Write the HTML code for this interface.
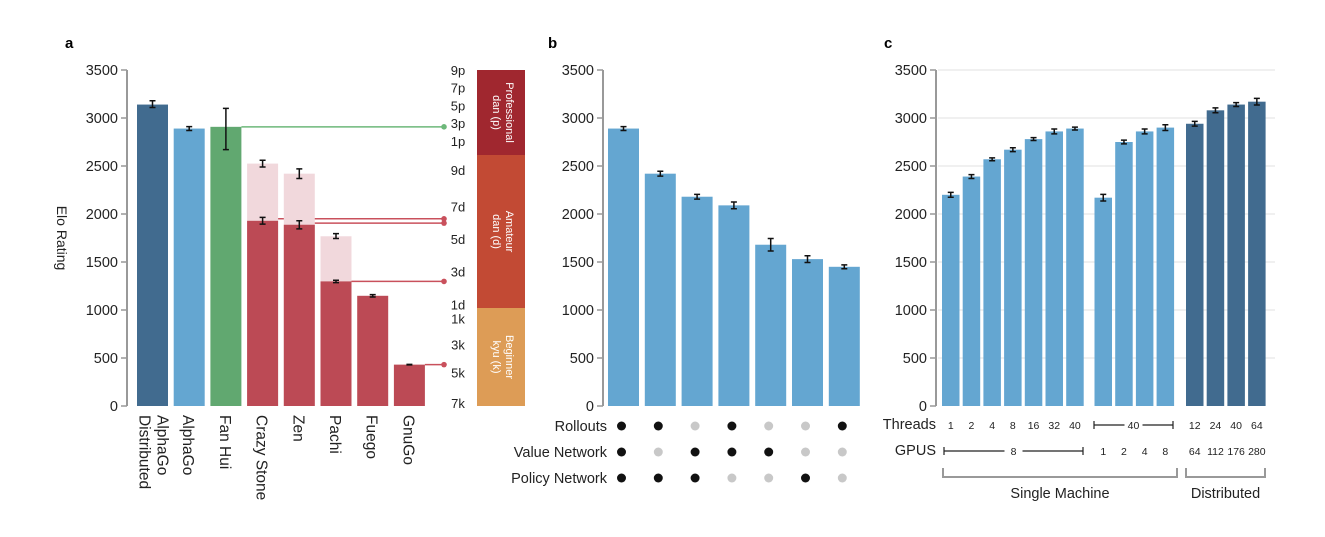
<!DOCTYPE html>
<html><head><meta charset="utf-8"><style>
html,body{margin:0;padding:0;background:#fff}
svg{display:block;font-family:"Liberation Sans",Arial,sans-serif}
</style></head><body>
<svg id="chart" width="1325" height="537" viewBox="0 0 1325 537">
<g id="ga"></g>
<g id="gb"></g>
<g id="gc"></g>
</svg>
<script>
// Panel a data
const aCats = [["AlphaGo","Distributed"],["AlphaGo"],["Fan Hui"],["Crazy Stone"],["Zen"],["Pachi"],["Fuego"],["GnuGo"]];
const aVals = [3140, 2890, 2908, 1929, 1888, 1298, 1148, 431];
const aErrLo = [3110, 2870, 2670, 1895, 1845, 1285, 1135, 428];
const aErrHi = [3180, 2910, 3100, 1965, 1930, 1310, 1160, 434];
const aLight = [null, null, null, 2525, 2420, 1768, null, null];
const aLightLo = [null, null, null, 2490, 2370, 1745, null, null];
const aLightHi = [null, null, null, 2560, 2470, 1795, null, null];
const aColors = ["#416b8f","#64a6d1","#61a870","#bc4a55","#bc4a55","#bc4a55","#bc4a55","#bc4a55"];
const aConnect = [null, null, 2908, 1950, 1905, 1298, null, 431];
const rankLabels = ["9p","7p","5p","3p","1p","9d","7d","5d","3d","1d","1k","3k","5k","7k"];
const rankElo = [3500, 3320, 3130, 2950, 2760, 2460, 2080, 1740, 1400, 1055, 910, 640, 350, 30];
const yTicks = [0,500,1000,1500,2000,2500,3000,3500];
// Panel b data
const bVals = [2890, 2420, 2180, 2090, 1680, 1530, 1450];
const bErr = [20, 25, 25, 35, 65, 35, 20];
const bRows = ["Rollouts","Value Network","Policy Network"];
const bRollouts = [1,1,0,1,0,0,1];
const bValue = [1,0,1,1,1,0,0];
const bPolicy = [1,1,1,0,0,1,0];
// Panel c data
const cVals = [2200,2390,2570,2670,2780,2860,2890, 2170,2750,2860,2900, 2940,3080,3140,3170];
const cErr = [25,20,15,20,15,25,15, 35,20,25,30, 25,25,20,35];
const cThreads = ["1","2","4","8","16","32","40", "","","","", "12","24","40","64"];
const cGpus = ["","","","","","","", "1","2","4","8", "64","112","176","280"];

const NS = "http://www.w3.org/2000/svg";
function mk(parent, tag, attrs, text){
  const e = document.createElementNS(NS, tag);
  for (const k in attrs) e.setAttribute(k, attrs[k]);
  if (text !== undefined) e.textContent = text;
  parent.appendChild(e); return e;
}
const y0 = 406, y1 = 70;
function yS(v){ return y0 - (v/3500)*(y0-y1); }

function errBar(g, cx, lo, hi, name){
  const p = mk(g, "path", {d:`M${cx},${yS(hi)}V${yS(lo)}M${cx-3},${yS(hi)}h6M${cx-3},${yS(lo)}h6`, stroke:"#111", "stroke-width":1.5, fill:"none"});
  
  
}
function axis(g, ax, gridTo){
  const l = mk(g, "path", {d:`M${ax},${y1}V${y0}`, stroke:"#999", "stroke-width":2, fill:"none"});
  
  
  yTicks.forEach(t=>{
    const y = yS(t);
    if (gridTo && t>0) {
      const gl = mk(g, "line", {x1:ax+2, x2:gridTo, y1:y, y2:y, stroke:"#ececec", "stroke-width":1.5});
      
      
    }
    mk(g, "line", {x1:ax-6, x2:ax, y1:y, y2:y, stroke:"#999", "stroke-width":1.5});
    const tx = mk(g, "text", {x:ax-9, y:y+5, "text-anchor":"end", "font-size":14.5, fill:"#222"}, String(t));
    
    
  });
}

// ---------- Panel a ----------
const ga = document.getElementById("ga");
let t = mk(ga,"text",{x:65,y:48,"font-size":15,"font-weight":"bold"},"a");
 
axis(ga, 127, null);
t = mk(ga,"text",{transform:"translate(57,238) rotate(90)","text-anchor":"middle","font-size":14,fill:"#222"},"Elo Rating");
 
const aX0 = 137, aPitch = 36.7, aW = 31;
aVals.forEach((v,i)=>{
  const x = aX0 + i*aPitch, cx = x + aW/2;
  if (aLight[i] !== null) {
    const lb = mk(ga,"rect",{x:x,y:yS(aLight[i]),width:aW,height:y0-yS(aLight[i]),fill:"#f1d8dc"});
     
    errBar(ga, cx, aLightLo[i], aLightHi[i], 'error-bar-ladder');
  }
  const r = mk(ga,"rect",{x:x,y:yS(v),width:aW,height:y0-yS(v),fill:aColors[i]});
   
  errBar(ga, cx, aErrLo[i], aErrHi[i], 'error-bar');
  if (aConnect[i] !== null) {
    const col = i===2 ? "#6db87a" : "#c9505c";
    const ln = mk(ga,"line",{x1:x+aW,x2:444,y1:yS(aConnect[i]),y2:yS(aConnect[i]),stroke:col,"stroke-width":1.5});
     
    const d = mk(ga,"circle",{cx:444,cy:yS(aConnect[i]),r:2.8,fill:col});
     
  }
  const bx = aCats[i].length>1 ? cx+5 : cx-6;
  const lab = mk(ga,"text",{transform:`translate(${bx},415) rotate(90)`,"font-size":15.5,fill:"#222"});
   
  aCats[i].forEach((s,k)=>{ mk(lab,"tspan",{x:0,dy:k===0?0:18}, s); });
});
rankLabels.forEach((s,i)=>{
  const tx = mk(ga,"text",{x:458,y:yS(rankElo[i])+5,"text-anchor":"middle","font-size":13,fill:"#222"},s);
   
});
const bands = [["#a0272f",70,155,["Professional","dan (p)"]],["#c24a34",155,308,["Amateur","dan (d)"]],["#dd9c56",308,406,["Beginner","kyu (k)"]]];
bands.forEach(b=>{
  const r = mk(ga,"rect",{x:477,y:b[1],width:48,height:b[2]-b[1],fill:b[0]});
   
  const cy = (b[1]+b[2])/2;
  const tx = mk(ga,"text",{transform:`translate(501,${cy}) rotate(90)`,"text-anchor":"middle","font-size":11,fill:"#fff"});
   
  mk(tx,"tspan",{x:0,dy:-5},b[3][0]); mk(tx,"tspan",{x:0,dy:13},b[3][1]);
});

// ---------- Panel b ----------
const gb = document.getElementById("gb");
t = mk(gb,"text",{x:548,y:48,"font-size":15,"font-weight":"bold"},"b");
 
axis(gb, 603, null);
const bX0 = 608, bPitch = 36.8, bW = 31;
bVals.forEach((v,i)=>{
  const x = bX0 + i*bPitch;
  const r = mk(gb,"rect",{x:x,y:yS(v),width:bW,height:y0-yS(v),fill:"#64a6d1"});
   
  errBar(gb, x+bW/2, v-bErr[i], v+bErr[i], 'error-bar');
});
const bMat = [bRollouts, bValue, bPolicy];
bRows.forEach((name,ri)=>{
  const y = 426 + ri*26;
  const tx = mk(gb,"text",{x:607,y:y+5,"text-anchor":"end","font-size":14.5,fill:"#222"},name);
   
  bMat[ri].forEach((on,i)=>{
    const c = mk(gb,"circle",{cx:bX0+bW/2+i*bPitch - 2,cy:y,r:4.5,fill:on?"#111":"#c8c8c8"});
     
  });
});

// ---------- Panel c ----------
const gc = document.getElementById("gc");
t = mk(gc,"text",{x:884,y:48,"font-size":15,"font-weight":"bold"},"c");
 
axis(gc, 936, 1275);
const cW = 17.5, cPitch = 20.7;
const cStarts = [942, 1094.5, 1186];
const cGroupOf = i => i<7 ? [0,i] : (i<11 ? [1,i-7] : [2,i-11]);
cVals.forEach((v,i)=>{
  const [g,k] = cGroupOf(i);
  const x = cStarts[g] + k*cPitch;
  const r = mk(gc,"rect",{x:x,y:yS(v),width:cW,height:y0-yS(v),fill:g===2?"#416b8f":"#64a6d1"});
   
  errBar(gc, x+cW/2, v-cErr[i], v+cErr[i], 'error-bar');
  if (cThreads[i]) {
    const tx = mk(gc,"text",{x:x+cW/2,y:429,"text-anchor":"middle","font-size":10.5,fill:"#222"},cThreads[i]);
     
  }
  if (cGpus[i]) {
    const tx = mk(gc,"text",{x:x+cW/2,y:455,"text-anchor":"middle","font-size":10.5,fill:"#222"},cGpus[i]);
     
  }
});
t = mk(gc,"text",{x:936,y:429,"text-anchor":"end","font-size":14.5,fill:"#222"},"Threads");
 
t = mk(gc,"text",{x:936,y:455,"text-anchor":"end","font-size":14.5,fill:"#222"},"GPUS");
 
function spanLine(x1,x2,y,label,name){
  const mid=(x1+x2)/2;
  const p = mk(gc,"path",{d:`M${x1},${y-4}v8M${x1},${y}H${mid-9}M${mid+9},${y}H${x2}M${x2},${y-4}v8`,stroke:"#222","stroke-width":1.2,fill:"none"});
   
  const tx = mk(gc,"text",{x:mid,y:y+4,"text-anchor":"middle","font-size":10.5,fill:"#222"},label);
   
}
spanLine(1094, 1173, 425, "40", "threads-span");
spanLine(944, 1083, 451, "8", "gpus-span");
function bracket(x1,x2,label,name){
  const p = mk(gc,"path",{d:`M${x1},${468}V${477}H${x2}V${468}`,stroke:"#999","stroke-width":2,fill:"none"});
   
  const tx = mk(gc,"text",{x:(x1+x2)/2,y:498,"text-anchor":"middle","font-size":14.5,fill:"#222"},label);
   
}
bracket(943, 1177, "Single Machine", "single-machine-bracket");
bracket(1186, 1265, "Distributed", "distributed-bracket");
</script>
</body></html>
